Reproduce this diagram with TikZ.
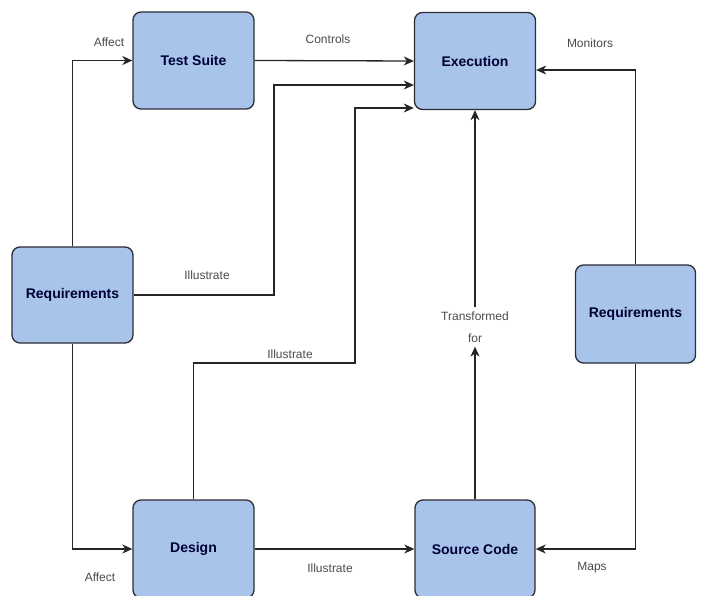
\documentclass[tikz,border=0pt]{standalone}
\usepackage{fontspec}
\setmainfont{Liberation Sans}
\usetikzlibrary{arrows.meta}
\definecolor{boxfill}{HTML}{A9C4EB}
\definecolor{boxline}{HTML}{2C2C36}
\definecolor{lbltext}{HTML}{4A4A4A}
\tikzset{>={Stealth[length=10pt,width=9pt,inset=3pt]}}

\begin{document}
\begin{tikzpicture}[x=1pt,y=-1pt,
	box/.style={draw=boxline, fill=boxfill, rounded corners=8pt, line width=1.3pt,
		minimum width=121pt, minimum height=97pt, inner sep=0pt,
		font=\fontsize{14}{16}\selectfont\bfseries, text=black!80!blue},
	lbl/.style={font=\fontsize{12}{22}\selectfont, text=lbltext, inner sep=1pt},
	link/.style={->, line width=1.3pt, color=black!85}]
	\useasboundingbox (0,0) rectangle (701,596);
	\clip (0,0) rectangle (701,596);
	% boxes
	\node[box] (test) at (193.5,60.5) {Test Suite};
	\node[box] (exec) at (475,61) {Execution};
	\node[box, minimum height=96pt] (reqL) at (72.5,295) {Requirements};
	\node[box, minimum width=120pt, minimum height=98pt] (reqR) at (635.5,314) {Requirements};
	\node[box, minimum height=98pt] (design) at (193.5,549) {Design};
	\node[box, minimum width=120pt, minimum height=98pt] (source) at (475,549) {Source Code};
	\node[lbl, align=center, inner ysep=4pt] (trans) at (475,327) {Transformed\\for};
	% connectors
	\draw[link] (reqL.north) |- (test.west);
	\draw[link] (test.east) -- (exec.west);
	\draw[link] (reqL.east) -| (274,85) -- ([yshift=-24pt]exec.west);
	\draw[link] (design.north) |- (355,363) |- ([yshift=-47pt]exec.west);
	\draw[link] (reqL.south) |- (design.west);
	\draw[link] (design.east) -- (source.west);
	\draw[link] (source.north) -- (trans.south);
	\draw[link] (trans.north) -- (exec.south);
	\draw[link] (reqR.north) |- ([yshift=-9pt]exec.east);
	\draw[link] (reqR.south) |- (source.east);
	% labels
	\node[lbl] (affectA) at (109,42) {Affect};
	\node[lbl] (controls) at (328,39) {Controls};
	\node[lbl] (illusA) at (207,275) {Illustrate};
	\node[lbl] (illusB) at (290,354) {Illustrate};
	\node[lbl] (affectB) at (100,577) {Affect};
	\node[lbl] (illusC) at (330,568) {Illustrate};
	\node[lbl] (monitors) at (590,43) {Monitors};
	\node[lbl] (maps) at (592,568) {Maps};
\end{tikzpicture}
\end{document}
